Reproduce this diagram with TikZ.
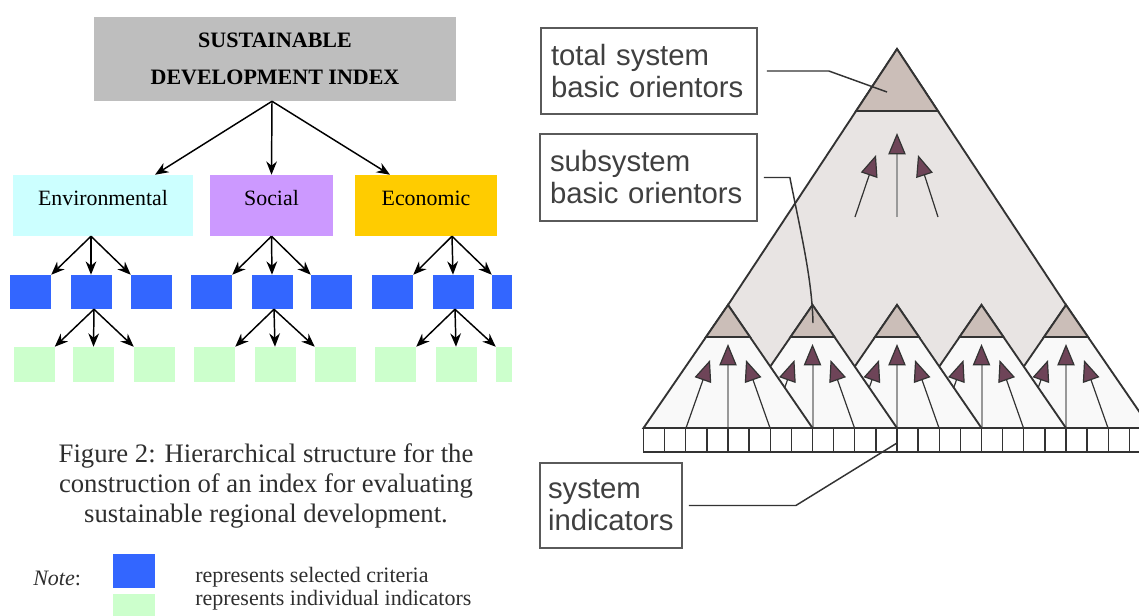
\documentclass[tikz,border=0pt]{standalone}
\usepackage{fontspec}
\setmainfont{Liberation Serif}
\newfontfamily\labelfont{Liberation Sans}
\usetikzlibrary{arrows.meta}
\definecolor{titlegray}{HTML}{BEBEBE}
\definecolor{envcol}{HTML}{CCFFFF}
\definecolor{soccol}{HTML}{CC99FF}
\definecolor{ecocol}{HTML}{FFCC00}
\definecolor{critcol}{HTML}{3366FF}
\definecolor{indcol}{HTML}{CCFFCC}
\definecolor{bigfill}{HTML}{E8E4E3}
\definecolor{capfill}{HTML}{CBBEB8}
\definecolor{smallfill}{HTML}{F9F9F9}
\definecolor{plum}{HTML}{6E4458}
\definecolor{edge}{HTML}{333333}
\definecolor{labeltext}{HTML}{404040}
\definecolor{boxline}{HTML}{5A5A5A}
\definecolor{captext}{HTML}{2E2E2E}
\begin{document}
\begin{tikzpicture}[x=0.75pt,y=-0.75pt,
  treearrow/.style={-{Stealth[length=10pt,width=8pt]},line width=1.1pt,black},
  critbox/.style={fill=critcol,minimum width=30.75pt,minimum height=25.5pt,inner sep=0pt},
  indbox/.style={fill=indcol,minimum width=30.75pt,minimum height=26.25pt,inner sep=0pt},
  catbox/.style={minimum height=45.75pt,inner sep=0pt,text height=6pt,text depth=6pt,font=\fontsize{16.4}{20}\selectfont},
  tri/.style={draw=edge,line width=1.4pt,line join=miter},
  uparrow/.style={-{Triangle[length=16pt,width=13pt,fill=plum,color=edge,line width=0.9pt]}},
  sideshaft/.style={uparrow,draw=edge,line width=0.9pt},
  midshaft/.style={uparrow,draw=gray!80,line width=1.5pt},
  labelbox/.style={draw=boxline,line width=1.3pt,inner xsep=7.5pt,inner ysep=0pt,align=left,text=labeltext,font=\labelfont\fontsize{22}{24}\selectfont},
  leader/.style={draw=edge,line width=1.1pt},
  cell/.style={draw=edge,line width=1.1pt,fill=white},
  notetext/.style={anchor=west,inner sep=0pt,text=captext,font=\fontsize{16.5}{20}\selectfont}
]
\clip (0,0) rectangle (1139,615);
\fill[white] (0,0) rectangle (1139,615);

% ---------- left: hierarchy ----------
\node[fill=titlegray,minimum width=271.5pt,minimum height=63pt,inner sep=0pt,align=center,font=\bfseries\fontsize{16.5}{27.75}\selectfont] (sdi) at (275,59) {SUSTAINABLE\\DEVELOPMENT INDEX};

\node[catbox,fill=envcol,minimum width=135pt] (env) at (103,205.5) {Environmental};
\node[catbox,fill=soccol,minimum width=92.25pt] (soc) at (271.5,205.5) {Social};
\node[catbox,fill=ecocol,minimum width=106.5pt] (eco) at (426,205.5) {Economic};

\node[critbox] (b1) at (30.5,292) {};
\node[critbox] (b2) at (91,292) {};
\node[critbox] (b3) at (151.5,292) {};
\node[critbox] (b4) at (211.5,292) {};
\node[critbox] (b5) at (272,292) {};
\node[critbox] (b6) at (331.5,292) {};
\node[critbox] (b7) at (392.5,292) {};
\node[critbox] (b8) at (453,292) {};
\node[critbox,minimum width=15pt] (b9) at (502,292) {};

\node[indbox] (g1) at (34,364.5) {};
\node[indbox] (g2) at (93.5,364.5) {};
\node[indbox] (g3) at (154.5,364.5) {};
\node[indbox] (g4) at (214.5,364.5) {};
\node[indbox] (g5) at (275,364.5) {};
\node[indbox] (g6) at (335.5,364.5) {};
\node[indbox] (g7) at (395.5,364.5) {};
\node[indbox] (g8) at (456,364.5) {};
\node[indbox,minimum width=12pt] (g9) at (504,364.5) {};

\draw[treearrow] ([xshift=-2.25pt]sdi.south) -- ([xshift=39pt]env.north);
\draw[treearrow] ([xshift=-2.25pt]sdi.south) -- (soc.north);
\draw[treearrow] ([xshift=-2.25pt]sdi.south) -- ([xshift=-27pt]eco.north);

\draw[treearrow] ([xshift=-9pt]env.south) -- (b1.north east);
\draw[treearrow] ([xshift=-9pt]env.south) -- (b2.north);
\draw[treearrow] ([xshift=-9pt]env.south) -- (b3.north west);
\draw[treearrow] (soc.south) -- (b4.north east);
\draw[treearrow] (soc.south) -- (b5.north);
\draw[treearrow] (soc.south) -- (b6.north west);
\draw[treearrow] ([xshift=19.5pt]eco.south) -- (b7.north east);
\draw[treearrow] ([xshift=19.5pt]eco.south) -- (b8.north);
\draw[treearrow] ([xshift=19.5pt]eco.south) -- (b9.north west);

\draw[treearrow] ([xshift=2.25pt]b2.south) -- (g1.north east);
\draw[treearrow] ([xshift=2.25pt]b2.south) -- (g2.north);
\draw[treearrow] ([xshift=2.25pt]b2.south) -- (g3.north west);
\draw[treearrow] ([xshift=1.5pt]b5.south) -- (g4.north east);
\draw[treearrow] ([xshift=1.5pt]b5.south) -- (g5.north);
\draw[treearrow] ([xshift=1.5pt]b5.south) -- (g6.north west);
\draw[treearrow] ([xshift=1.5pt]b8.south) -- (g7.north east);
\draw[treearrow] ([xshift=1.5pt]b8.south) -- (g8.north);
\draw[treearrow] ([xshift=1.5pt]b8.south) -- (g9.north west);

\node[align=center,text=captext,font=\fontsize{20}{22.5}\selectfont] (cap) at (266,486) {Figure 2: Hierarchical structure for the\\construction of an index for evaluating\\sustainable regional development.};

\node[notetext] (note) at (33,578) {\textit{Note}:};
\node[critbox,minimum width=31.5pt] (legc) at (134,571) {};
\node[indbox,minimum width=31.5pt,minimum height=25.5pt] (legi) at (134,611) {};
\node[notetext] (legct) at (195,577) {represents selected criteria};
\node[notetext] (legit) at (195,600) {represents individual indicators};

% ---------- right: pyramid ----------
\fill[bigfill] (897,49) -- (728,305) -- (644,428) -- (1151,428) -- (1066,305) -- cycle;
\draw[tri] (728,305) -- (897,49) -- (1066,305);
\filldraw[tri,fill=capfill] (897,49) -- (856.1,111) -- (937.9,111) -- cycle;
\draw[midshaft] (897,217) -- (897,133);
\draw[sideshaft] (855,217) -- (876,155);
\draw[sideshaft] (938,217) -- (918,155);

\foreach \ax in {1066,981.5,897,812.5,728}{
  \filldraw[tri,fill=smallfill] (\ax,305) -- (\ax-84.5,428) -- (\ax+84.5,428) -- cycle;
  \filldraw[tri,fill=capfill] (\ax,305) -- (\ax-22,337) -- (\ax+22,337) -- cycle;
  \draw[midshaft] (\ax,428) -- (\ax,344);
  \draw[sideshaft] (\ax-42,428) -- (\ax-18,360);
  \draw[sideshaft] (\ax+42,428) -- (\ax+18,360);
}
\foreach \i in {0,...,23}{
  \draw[cell] (643.5+\i*21.125,428) rectangle ++(21.125,24);
}

\node[labelbox,text width=147pt,minimum height=64.5pt] (tsbo) at (649,71) {total system\\basic orientors};
\node[labelbox,text width=147.75pt,minimum height=65.25pt] (ssbo) at (648.5,177.5) {subsystem\\basic orientors};
\node[labelbox,inner xsep=6pt,text width=94.5pt,minimum height=63.75pt] (sibo) at (611,505.5) {system\\indicators};

\coordinate (tsend) at (887,92);
\coordinate (ssend) at (813,323);
\coordinate (siend) at (897,443);
\draw[leader] ([xshift=6.75pt]tsbo.east) -- ++(62,0) -- (tsend);
\draw[leader] ([xshift=4.5pt]ssbo.east) -- ++(26,0) .. controls +(12,60) and (812,280) .. (ssend);
\draw[leader] ([xshift=4.5pt]sibo.east) -- ++(107,0) -- (siend);
\end{tikzpicture}
\end{document}
